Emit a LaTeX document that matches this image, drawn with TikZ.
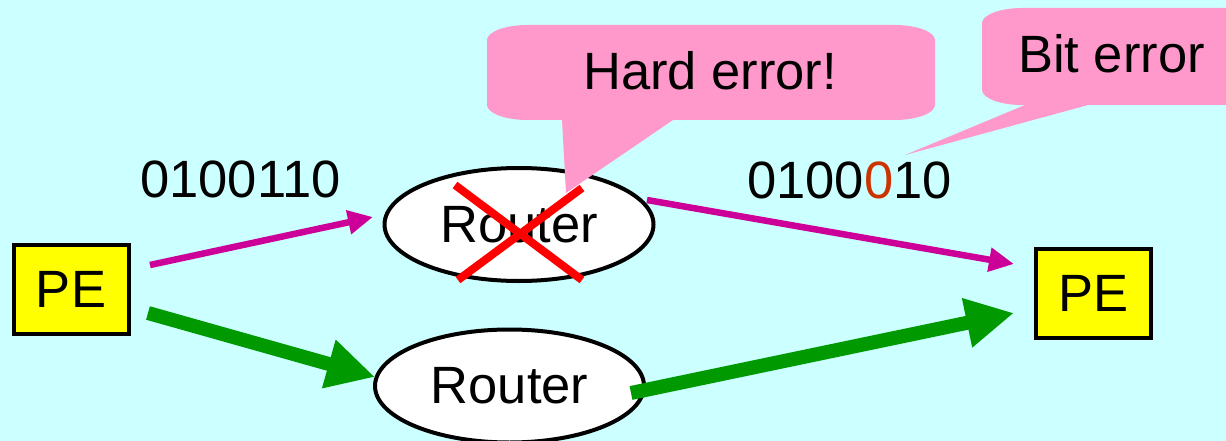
\documentclass[tikz,border=0pt]{standalone}
\usepackage{fontspec}
\setmainfont{Liberation Sans}
\usetikzlibrary{arrows.meta,shapes.geometric}
\definecolor{bgcyan}{HTML}{CCFFFF}
\definecolor{calloutpink}{HTML}{FF99CC}
\definecolor{pathpink}{HTML}{CC0099}
\definecolor{pathgreen}{HTML}{009900}
\definecolor{peyellow}{HTML}{FFFF00}
\definecolor{digitred}{HTML}{CC3300}
\tikzset{
  bigtext/.style={font=\fontsize{52.5}{63}\selectfont},
  pebox/.style={draw=black,line width=4pt,fill=peyellow,minimum width=115pt,minimum height=89pt,inner sep=0pt,bigtext},
  routernode/.style={ellipse,draw=black,line width=4pt,fill=white,minimum width=269pt,minimum height=113pt,inner sep=0pt,bigtext},
  label/.style={anchor=base,inner sep=0pt,bigtext},
  calloutfill/.style={fill=calloutpink},
  thinarrow/.style={draw=pathpink,line width=6.5pt,-{Triangle[length=25pt,width=23pt]}},
  thickarrow/.style={draw=pathgreen,line width=14pt,-{Triangle[length=48pt,width=47pt]}},
  crossline/.style={draw=red,line width=8pt}
}
\begin{document}
\begin{tikzpicture}[x=1pt,y=-1pt]
\useasboundingbox (0,0) rectangle (1226,441);
\fill[bgcyan] (0,0) rectangle (1226,441);
\clip (0,0) rectangle (1226,441);

% nodes
\node[pebox] (peL) at (71,289) {PE};
\node[pebox] (peR) at (1093.5,293) {PE};
\node[routernode] (r1) at (519,224.5) {Router};
\node[routernode] (r2) at (509.5,386) {Router};

% connector end points
\coordinate (s1) at (150,265);
\coordinate (t1) at (373,217);
\coordinate (s2) at (647,200);
\coordinate (t2) at (1014,264);
\coordinate (s3) at (148,313);
\coordinate (t3) at (375,377);
\coordinate (s4) at (631,393);
\coordinate (t4) at (1014,313);

\draw[thinarrow] (s1) -- (t1);
\draw[thinarrow] (s2) -- (t2);
\draw[thickarrow] (s3) -- (t3);
\draw[thickarrow] (s4) -- (t4);

% labels
\node[label] (bitsA) at (240.5,197) {0100110};
\node[label] (bitsB) at (849.5,198) {0100\textcolor{digitred}{0}10};

% Hard error callout
\fill[calloutfill] (527,25) -- (895,25) .. controls (917,25) and (935,32) .. (935,40)
  -- (935,105) .. controls (935,113) and (917,120) .. (895,120)
  -- (673,120) -- (566,193) -- (562,120) -- (527,120)
  .. controls (505,120) and (487,113) .. (487,105)
  -- (487,40) .. controls (487,32) and (505,25) .. (527,25) -- cycle;
\node[label] (hard) at (710,90) {Hard error!};

% Bit error callout
\fill[calloutfill] (1022,8) -- (1270,8) -- (1270,105) -- (1088,105) -- (905,155) -- (1025,105)
  -- (1022,105) .. controls (1000,105) and (982,98) .. (982,90)
  -- (982,23) .. controls (982,15) and (1000,8) .. (1022,8) -- cycle;
\node[label] (bit) at (1111.5,73) {Bit error};

% red cross over the failed router
\coordinate (xa) at (455,185);
\coordinate (xb) at (582,280);
\coordinate (xc) at (458,280);
\coordinate (xd) at (582,188);
\draw[crossline] (xa) -- (xb);
\draw[crossline] (xc) -- (xd);
\end{tikzpicture}
\end{document}
